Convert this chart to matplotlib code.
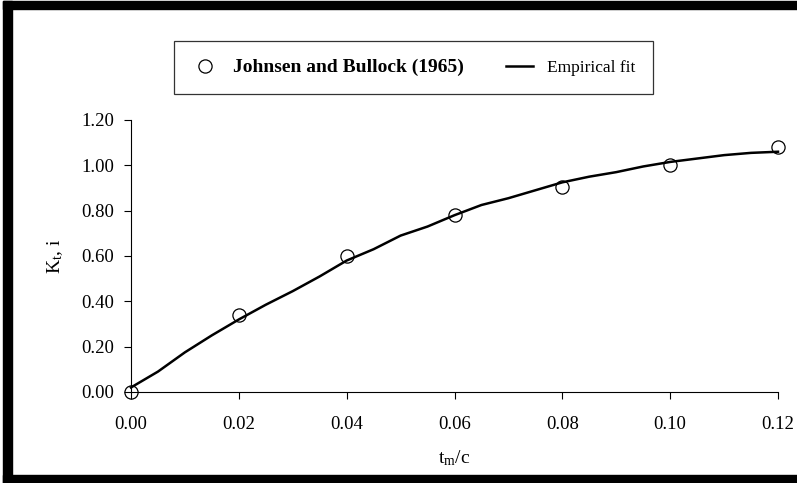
import numpy as np
import matplotlib.pyplot as plt
from matplotlib.patches import Rectangle

plt.rcParams['font.family'] = 'Liberation Serif'
plt.rcParams['mathtext.fontset'] = 'stix'

# measured points, Johnsen and Bullock (1965)
tm_c = [0.00, 0.02, 0.04, 0.06, 0.08, 0.10, 0.12]
kti = [0.00, 0.34, 0.60, 0.78, 0.905, 1.00, 1.08]

# empirical fit
fit_x = [0.000, 0.005, 0.010, 0.015, 0.020, 0.025, 0.030, 0.035, 0.040,
         0.045, 0.050, 0.055, 0.060, 0.065, 0.070, 0.075, 0.080, 0.085,
         0.090, 0.095, 0.100, 0.105, 0.110, 0.115, 0.120]
fit_y = [0.02, 0.09, 0.175, 0.25, 0.32, 0.385, 0.445, 0.51, 0.58,
         0.63, 0.69, 0.73, 0.78, 0.825, 0.855, 0.89, 0.925, 0.95,
         0.97, 0.995, 1.015, 1.03, 1.045, 1.055, 1.06]

xticks = [0.00, 0.02, 0.04, 0.06, 0.08, 0.10, 0.12]
yticks = [0.00, 0.20, 0.40, 0.60, 0.80, 1.00, 1.20]

fig = plt.figure(figsize=(7.97, 4.83), dpi=100)
ax = fig.add_axes([131 / 797, 91 / 483, 647 / 797, 272 / 483])

ax.plot(tm_c, kti, 'o', ms=9.5, mfc='none', mec='black', mew=0.9,
        label='Johnsen and Bullock (1965)', clip_on=False, zorder=3)
ax.plot(fit_x, fit_y, '-', color='black', lw=1.8, label='Empirical fit',
        clip_on=False)

ax.set_xlim(0, 0.12)
ax.set_ylim(0, 1.2)
ax.set_xticks(xticks)
ax.set_xticklabels(['%.2f' % v for v in xticks])
ax.set_yticks(yticks)
ax.set_yticklabels(['%.2f' % v for v in yticks])
ax.tick_params(direction='out', length=5, width=0.8, labelsize=13.5,
               colors='black')
ax.tick_params(axis='x', pad=12)
ax.tick_params(axis='y', pad=7)
for s in ['top', 'right']:
    ax.spines[s].set_visible(False)
for s in ['left', 'bottom']:
    ax.spines[s].set_linewidth(0.8)

ax.set_xlabel(r'$\mathregular{t_m/c}$', fontsize=14, labelpad=11)
ax.set_ylabel(r'$\mathregular{K_t}$, i', fontsize=14, labelpad=12)

leg = fig.legend(loc='center', bbox_to_anchor=(174 / 797, 1 - 99 / 483,
                                                479 / 797, 63 / 483),
                 mode='expand', ncol=2, frameon=True, fancybox=False,
                 edgecolor='black', fontsize=12.5, borderpad=1.0,
                 handlelength=1.6, columnspacing=1.0, handletextpad=0.8,
                 borderaxespad=0)
leg.get_frame().set_linewidth(0.9)
leg.get_texts()[0].set_fontsize(14)
leg.get_texts()[0].set_fontweight('bold')

# thick black frame around the picture (top, left, bottom)
fig.patches.append(Rectangle((3 / 797, 1 - 9 / 483), 1, 8 / 483,
                             transform=fig.transFigure, color='black'))
fig.patches.append(Rectangle((3 / 797, 0), 9 / 797, 1 - 1 / 483,
                             transform=fig.transFigure, color='black'))
fig.patches.append(Rectangle((3 / 797, 0), 1, 8 / 483,
                             transform=fig.transFigure, color='black'))

fig.savefig('out.png', dpi=100)
